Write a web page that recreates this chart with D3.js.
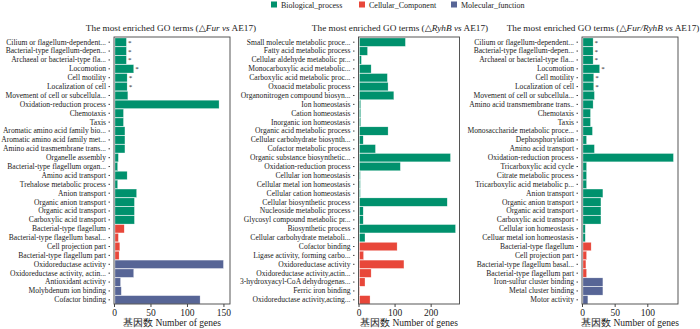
<!DOCTYPE html>
<html>
<head>
<meta charset="utf-8">
<script src="https://cdn.jsdelivr.net/npm/d3@7"></script>
<style>
  body { margin: 0; background: #fff; }
  text { font-family: "Liberation Serif", "DejaVu Serif", serif; fill: #222; }
</style>
</head>
<body>
<div id="chart"></div>
<script>
// ---- data ----
const terms1 = [
  "Cilium or flagellum-dependent...", "Bacterial-type flagellum-depen...", "Archaeal or bacterial-type fla...",
  "Locomotion", "Cell motility", "Localization of cell", "Movement of cell or subcellula...",
  "Oxidation-reduction process", "Chemotaxis", "Taxis", "Aromatic amino acid family bio...",
  "Aromatic amino acid family met...", "Amino acid trasmembrane trans...", "Organelle assembly",
  "Bacterial-type flagellum organ...", "Amino acid transport", "Trehalose metabolic process",
  "Anion transport", "Organic anion transport", "Organic acid transport", "Carboxylic acid transport",
  "Bacterial-type flagellum", "Bacterial-type flagellum basal...", "Cell projection part",
  "Bacterial-type flagellum part", "Oxidoreductase activity", "Oxidoreductase activity, actin...",
  "Antioxidant activity", "Molybdenum ion binding", "Cofactor binding"
];
const counts1 = [17, 17, 17, 27, 18, 18, 19, 144, 13, 13, 15, 15, 15, 6, 5, 18, 5, 31, 28, 28, 28,
  14, 6, 8, 7, 150, 27, 9, 10, 118];
const types1 = [
  "BP","BP","BP","BP","BP","BP","BP","BP","BP","BP","BP","BP","BP","BP","BP","BP","BP","BP","BP","BP","BP",
  "CC","CC","CC","CC","MF","MF","MF","MF","MF"
];
const stars1 = [1, 1, 1, 1, 1, 1, 0, 0, 0, 0, 0, 0, 0, 0, 0, 0, 0, 0, 0, 0, 0, 0, 0, 0, 0, 0, 0, 0, 0, 0];
const ticks1 = [0, 50, 100, 150];

const terms2 = [
  "Small molecule metabolic proce...", "Fatty acid metabolic process", "Cellular aldehyde metabolic pr...",
  "Monocarboxylic acid metabolic...", "Carboxylic acid metabolic proc...", "Oxoacid metabolic process",
  "Organonitrogen compound biosyn...", "Ion homeostasis", "Cation homeostasis", "Inorganic ion homeostasis",
  "Organic acid metabolic process", "Cellular carbohydrate biosynth...", "Cofactor metabolic process",
  "Organic substance biosynthetic...", "Oxidation-reduction process", "Cellular ion homeostasis",
  "Cellular metal ion homeostasis", "Cellular cation homeostasis", "Cellular biosynthetic process",
  "Nucleoside metabolic process", "Glycosyl compound metabolic pr...", "Biosynthetic process",
  "Cellular carbohydrate metaboli...", "Cofactor binding", "Ligase activity, forming carbo...",
  "Oxidoreductase activity", "Oxidoreductase activity,actin...", "3-hydroxyacyl-CoA dehydrogenas...",
  "Ferric iron binding", "Oxidoreductase activity,acting..."
];
const counts2 = [130, 25, 8, 35, 80, 82, 98, 6, 6, 6, 82, 13, 47, 255, 116, 5, 5, 5, 246, 13, 13, 269, 18,
  107, 14, 126, 35, 18, 4, 32];
const types2 = [
  "BP","BP","BP","BP","BP","BP","BP","BP","BP","BP","BP","BP","BP","BP","BP","BP","BP","BP","BP","BP","BP","BP","BP",
  "CC","CC","CC","CC","CC","CC","CC"
];
const stars2 = new Array(30).fill(0);
const ticks2 = [0, 100, 200];

const terms3 = [
  "Cilium or flagellum-dependent...", "Bacterial-type flagellum-depen...", "Archaeal or bacterial-type fla...",
  "Locomotion", "Cell motility", "Localization of cell", "Movement of cell or subcellula...",
  "Amino acid transmembrane trans..", "Chemotaxis", "Taxis", "Monosaccharide metabolic proce...",
  "Dephosphorylation", "Amino acid transport", "Oxidation-reduction process", "Tricarboxylic acid cycle",
  "Citrate metabolic process", "Tricarboxylic acid metabolic p...", "Anion transport", "Organic anion transport",
  "Organic acid transport", "Carboxylic acid transport", "Cellular ion homeostasis", "Celluar metal ion homeostasis",
  "Bacterial-type flagellum", "Cell projection part", "Bacterial-type flagellum basal...",
  "Bacterial-type flagellum part", "Iron-sulfur cluster binding", "Metal cluster binding", "Motor activity"
];
const counts3 = [17, 17, 17, 27, 18, 18, 19, 17, 13, 13, 16, 7, 19, 140, 7, 7, 7, 32, 29, 29, 29, 5, 5,
  14, 7, 6, 7, 32, 32, 9];
const types3 = [
  "BP","BP","BP","BP","BP","BP","BP","BP","BP","BP","BP","BP","BP","BP","BP","BP","BP","BP","BP","BP","BP","BP","BP",
  "CC","CC","CC","CC","MF","MF","MF"
];
const stars3 = [1, 1, 1, 1, 1, 1, 0, 0, 0, 0, 0, 0, 0, 0, 0, 0, 0, 0, 0, 0, 0, 0, 0, 0, 0, 0, 0, 0, 0, 0];
const ticks3 = [0, 50, 100];

const legendKeys = ["BP", "CC", "MF"];
const legendLabels = ["Biological_process", "Cellular_Component", "Molecular_function"];

const color = d3.scaleOrdinal()
  .domain(legendKeys)
  .range(["#00916d", "#e8473a", "#576596"]);

// ---- svg ----
const W = 700, H = 329;
const svg = d3.select("#chart").append("svg")
  .attr("width", W)
  .attr("height", H);

const plotTop = 37, plotBottom = 304;

function drawPanel(p) {
  const data = p.terms.map((t, i) => ({ term: t, n: p.counts[i], type: p.types[i], star: p.stars[i] }));

  const x = d3.scaleLinear().domain([0, p.max]).range([p.left, p.right]);
  const y = d3.scaleBand().domain(p.terms).range([plotTop + 1, plotBottom]).paddingInner(0.06);

  const g = svg.append("g");

  g.selectAll(".bar")
    .data(data)
    .enter()
    .append("rect")
    .attr("class", "bar")
    .attr("x", x(0) + 1)
    .attr("y", d => y(d.term))
    .attr("width", d => Math.max(0, x(d.n) - x(0) - 1))
    .attr("height", y.bandwidth())
    .attr("fill", d => color(d.type))
    .attr("stroke", "#fff")
    .attr("stroke-width", 0.4)
    .attr("stroke-opacity", 0.7);

  // significance stars
  g.selectAll(".star")
    .data(data.filter(d => d.star))
    .enter()
    .append("text")
    .attr("class", "star")
    .attr("x", d => x(d.n) + 1.5)
    .attr("y", d => y(d.term) + y.bandwidth() / 2 + 2.5)
    .attr("font-size", "7px")
    .text("*");

  // frame
  g.append("rect")
    .attr("x", p.left)
    .attr("y", plotTop)
    .attr("width", p.right - p.left)
    .attr("height", plotBottom - plotTop)
    .attr("fill", "none")
    .attr("stroke", "#444")
    .attr("stroke-width", 0.9);

  // y ticks sit a little left of the frame, as in the original
  const yAxis = g.append("g")
    .attr("transform", `translate(${p.left - 4},0)`)
    .call(d3.axisLeft(y).tickSize(1.5).tickPadding(2.5));
  yAxis.select(".domain").remove();
  yAxis.selectAll("text")
    .attr("font-size", "7.6px")
    .attr("font-family", "Liberation Serif, serif")
    .attr("fill", "#222");
  yAxis.selectAll("line").attr("stroke", "#444");

  const xAxis = g.append("g")
    .attr("transform", `translate(0,${plotBottom})`)
    .call(d3.axisBottom(x).tickValues(p.ticks).tickSize(3).tickPadding(2));
  xAxis.select(".domain").remove();
  xAxis.selectAll("text")
    .attr("font-size", "9.5px")
    .attr("font-family", "Liberation Serif, serif")
    .attr("fill", "#333");
  xAxis.selectAll("line").attr("stroke", "#444");

  g.append("text")
    .attr("x", (p.left + p.right) / 2)
    .attr("y", 326)
    .attr("text-anchor", "middle")
    .attr("font-size", "9.5px")
    .attr("fill", "#333")
    .text("基因数  Number of genes");

  // title with italic strain names
  const title = g.append("text")
    .attr("x", p.titleX)
    .attr("y", 31)
    .attr("text-anchor", "middle")
    .attr("font-size", "9.25px");
  p.title.forEach(seg => {
    title.append("tspan")
      .attr("font-style", seg[1] ? "italic" : "normal")
      .text(seg[0]);
  });
}

drawPanel({
  terms: terms1, counts: counts1, types: types1, stars: stars1, ticks: ticks1,
  max: 159, left: 114, right: 230, titleX: 171,
  title: [["The most enriched GO terms (\u25b3", 0], ["Fur", 1], [" ", 0], ["vs", 1], [" AE17)", 0]]
});
drawPanel({
  terms: terms2, counts: counts2, types: types2, stars: stars2, ticks: ticks2,
  max: 280, left: 358.5, right: 459.5, titleX: 400,
  title: [["The most enriched GO terms (\u25b3", 0], ["RyhB", 1], [" ", 0], ["vs", 1], [" AE17)", 0]]
});
drawPanel({
  terms: terms3, counts: counts3, types: types3, stars: stars3, ticks: ticks3,
  max: 147, left: 582, right: 678, titleX: 603,
  title: [["The most enriched GO terms (\u25b3", 0], ["Fur/RyhB vs", 1], [" AE17)", 0]]
});

// legend
const legendX = [271, 359, 451];
const legend = svg.append("g");
legendKeys.forEach((k, i) => {
  legend.append("rect")
    .attr("x", legendX[i])
    .attr("y", 1.5)
    .attr("width", 6)
    .attr("height", 6)
    .attr("fill", color(k));
  legend.append("text")
    .attr("x", legendX[i] + 10)
    .attr("y", 7.5)
    .attr("font-size", "8px")
    .attr("fill", "#333")
    .text(legendLabels[i]);
});
</script>
</body>
</html>
